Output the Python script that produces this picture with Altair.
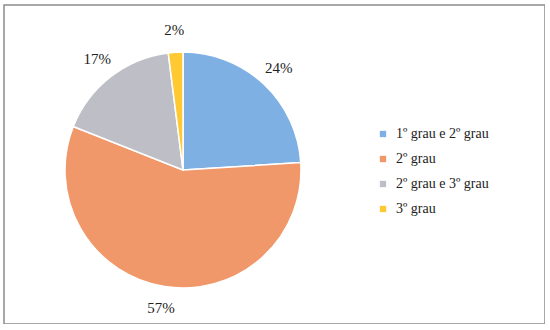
import altair as alt
import pandas as pd

categories = ["1º grau e 2º grau", "2º grau", "2º grau e 3º grau", "3º grau"]
values = [24, 57, 17, 2]
labels = ["24%", "57%", "17%", "2%"]
colors = ["#7FB0E3", "#F1986A", "#BDBEC6", "#FFC933"]

df = pd.DataFrame({"cat": categories, "val": values, "lab": labels, "ord": list(range(len(values)))})

base = alt.Chart(df).encode(
    theta=alt.Theta("val:Q", stack=True),
    order=alt.Order("ord:Q"),
)

color = alt.Color(
    "cat:N",
    scale=alt.Scale(domain=categories, range=colors),
    sort=categories,
    legend=alt.Legend(
        title=None,
        orient="none",
        legendX=372,
        legendY=122,
        symbolType="square",
        symbolSize=40,
        symbolStrokeWidth=0,
        labelFont="Liberation Serif",
        labelFontSize=14,
        labelColor="#222",
        rowPadding=11,
        labelOffset=6,
    ),
)

pie = base.mark_arc(outerRadius=118, stroke="white", strokeWidth=1.5).encode(
    color=color,
    x=alt.value(179),
    y=alt.value(165),
)

text = base.mark_text(
    radius=140, font="Liberation Serif", fontSize=15, color="#222"
).encode(
    text="lab:N",
    x=alt.value(179),
    y=alt.value(165),
)

chart = (
    alt.layer(pie, text)
    .properties(
        width=541,
        height=319,
        padding={"left": 4, "top": 5, "right": 0, "bottom": 0},
        autosize=alt.AutoSizeParams(type="none"),
        background="white",
    )
    .configure_view(stroke="#8c8c8c", strokeWidth=1.5)
)

chart.save("out.html", embed_options={"renderer": "svg", "actions": False})
